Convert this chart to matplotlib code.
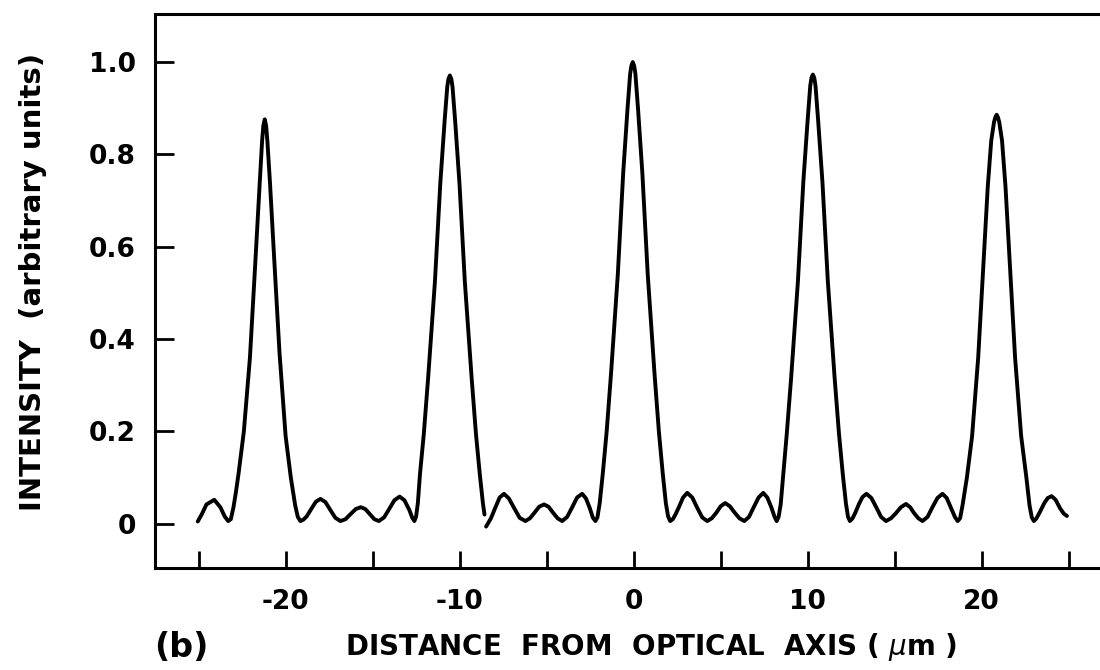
import numpy as np
import matplotlib.pyplot as plt

# ------------------------------------------------------------
# Intensity profile across the array (two pen traces, break near -8.5 um)
# ------------------------------------------------------------
x_a = [-25.05, -24.8, -24.55, -24.1, -23.75, -23.5, -23.3, -23.15,
       -23.0, -22.85, -22.7, -22.4, -22.05, -21.75, -21.5, -21.35, -21.28,
       -21.2, -21.12, -21.05, -20.9, -20.65, -20.35, -20.0, -19.7, -19.45,
       -19.3, -19.15, -18.98, -18.79, -18.53, -18.26, -18.0,
       -17.71, -17.43, -17.14, -16.85,
       -16.56, -16.27, -15.97, -15.68, -15.42, -15.16, -14.9, -14.64,
       -14.34, -14.05, -13.75, -13.45, -13.17, -12.89, -12.72, -12.6,
       -12.5, -12.4, -12.28, -12.06, -11.81, -11.42, -11.11, -10.86, -10.71,
       -10.64, -10.56, -10.48, -10.41, -10.26, -10.01, -9.70, -9.31, -9.06,
       -8.84, -8.66, -8.57]
y_a = [0.005, 0.022, 0.042, 0.052, 0.036, 0.016, 0.006, 0.010,
       0.035, 0.070, 0.110, 0.200, 0.360, 0.560, 0.730, 0.830, 0.862,
       0.876, 0.862, 0.830, 0.740, 0.570, 0.370, 0.190, 0.100, 0.040,
       0.015, 0.006, 0.009, 0.016, 0.032, 0.048, 0.054,
       0.047, 0.030, 0.013, 0.006,
       0.010, 0.021, 0.032, 0.036, 0.032, 0.021, 0.010, 0.006,
       0.014, 0.032, 0.051, 0.059, 0.051, 0.030, 0.013, 0.006,
       0.016, 0.045, 0.107, 0.194, 0.316, 0.524, 0.738, 0.874, 0.947,
       0.964, 0.971, 0.964, 0.947, 0.874, 0.738, 0.524, 0.316, 0.194,
       0.107, 0.044, 0.020]

x_b = [-8.48, -8.2, -7.95, -7.7, -7.45, -7.17, -6.88, -6.55, -6.22,
       -5.96, -5.7, -5.43, -5.15, -4.89, -4.63, -4.37, -4.11,
       -3.82, -3.53, -3.25, -2.96, -2.74, -2.52, -2.35, -2.2, -2.08,
       -1.95, -1.77, -1.55, -1.3, -0.91, -0.6, -0.35, -0.2, -0.13, -0.05,
       0.03, 0.1, 0.25, 0.5, 0.81, 1.2, 1.45, 1.67, 1.85, 1.98, 2.1,
       2.25, 2.4, 2.6, 2.84, 3.08, 3.37, 3.65, 3.94, 4.23,
       4.49, 4.75, 5.0, 5.26, 5.53, 5.81, 6.08, 6.36,
       6.63, 6.9, 7.18, 7.45, 7.68, 7.91, 8.1, 8.22, 8.33,
       8.45, 8.6, 8.8, 9.05, 9.44, 9.75, 10.0, 10.15, 10.22, 10.3,
       10.38, 10.45, 10.6, 10.85, 11.16, 11.55, 11.8, 12.02, 12.2, 12.32,
       12.43, 12.58, 12.75, 12.95, 13.15, 13.38, 13.66, 13.94, 14.22, 14.5,
       14.79, 15.07, 15.36, 15.65, 15.89, 16.12, 16.36, 16.6,
       16.89, 17.17, 17.46, 17.75, 17.99, 18.22, 18.46, 18.62, 18.76,
       18.9, 19.15, 19.45, 19.8, 20.1, 20.35, 20.55, 20.71, 20.78, 20.86,
       20.94, 21.01, 21.17, 21.37, 21.62, 21.92, 22.27, 22.57, 22.75, 22.88,
       23.0, 23.15, 23.35, 23.6, 23.8, 24.02, 24.25, 24.5, 24.72, 24.9]
y_b = [-0.006, 0.012, 0.035, 0.057, 0.065, 0.055, 0.035, 0.013, 0.006,
       0.012, 0.024, 0.037, 0.042, 0.037, 0.024, 0.012, 0.006,
       0.015, 0.036, 0.057, 0.065, 0.055, 0.034, 0.014, 0.006, 0.014,
       0.045, 0.110, 0.200, 0.325, 0.540, 0.760, 0.900, 0.975, 0.992, 1.000,
       0.992, 0.975, 0.900, 0.760, 0.540, 0.325, 0.200, 0.110, 0.045, 0.016, 0.006,
       0.010, 0.020, 0.036, 0.057, 0.067, 0.057, 0.035, 0.014, 0.006,
       0.012, 0.024, 0.038, 0.045, 0.038, 0.024, 0.012, 0.006,
       0.015, 0.036, 0.057, 0.067, 0.057, 0.036, 0.015, 0.006, 0.015,
       0.042, 0.107, 0.195, 0.316, 0.525, 0.740, 0.875, 0.949, 0.966, 0.973,
       0.966, 0.949, 0.875, 0.740, 0.525, 0.316, 0.195, 0.107, 0.044, 0.015,
       0.006, 0.012, 0.025, 0.043, 0.058, 0.065, 0.056, 0.036, 0.015, 0.006,
       0.012, 0.023, 0.036, 0.043, 0.036, 0.023, 0.012, 0.006,
       0.015, 0.036, 0.056, 0.065, 0.056, 0.036, 0.015, 0.006, 0.012,
       0.040, 0.100, 0.190, 0.360, 0.560, 0.730, 0.830, 0.870, 0.880, 0.886,
       0.880, 0.870, 0.830, 0.730, 0.560, 0.360, 0.190, 0.100, 0.040, 0.014,
       0.006, 0.012, 0.026, 0.045, 0.056, 0.060, 0.052, 0.034, 0.022, 0.017]

x_ticks = [-25, -20, -15, -10, -5, 0, 5, 10, 15, 20, 25]
x_labels = ['', '-20', '', '-10', '', '0', '', '10', '', '20', '']
y_ticks = [0, 0.2, 0.4, 0.6, 0.8, 1.0]
y_labels = ['0', '0.2', '0.4', '0.6', '0.8', '1.0']

# ------------------------------------------------------------
# Figure
# ------------------------------------------------------------
plt.rcParams['font.family'] = 'DejaVu Sans'
fig = plt.figure(figsize=(11, 6.7), dpi=100)
ax = fig.add_axes([0.141, 0.152, 0.859, 0.827])

line_kw = dict(color='black', linewidth=2.8, solid_capstyle='round', solid_joinstyle='round')
ax.plot(x_a, y_a, **line_kw)
ax.plot(x_b, y_b, **line_kw)

ax.set_xlim(-27.5, 26.8)
ax.set_ylim(-0.096, 1.104)

ax.set_xticks(x_ticks)
ax.set_xticklabels(x_labels)
ax.set_yticks(y_ticks)
ax.set_yticklabels(y_labels)

ax.tick_params(axis='x', direction='in', length=12, width=2, pad=15, labelsize=19)
ax.tick_params(axis='y', direction='in', length=14, width=2, pad=14, labelsize=19)
for lab in ax.get_xticklabels() + ax.get_yticklabels():
    lab.set_fontweight('bold')

for side in ['left', 'bottom', 'top']:
    ax.spines[side].set_linewidth(2.2)
ax.spines['right'].set_visible(False)

fig.text(0.030, 0.579, 'INTENSITY  (arbitrary units)', fontsize=21, fontweight='bold',
         rotation=90, ha='center', va='center')
fig.text(0.592, 0.034, 'DISTANCE  FROM  OPTICAL  AXIS ( $\\mu$m )', fontsize=20,
         fontweight='bold', ha='center', va='center')
fig.text(0.165, 0.034, '(b)', fontsize=24, fontweight='bold', ha='center', va='center')

fig.savefig('out.png', dpi=100)
